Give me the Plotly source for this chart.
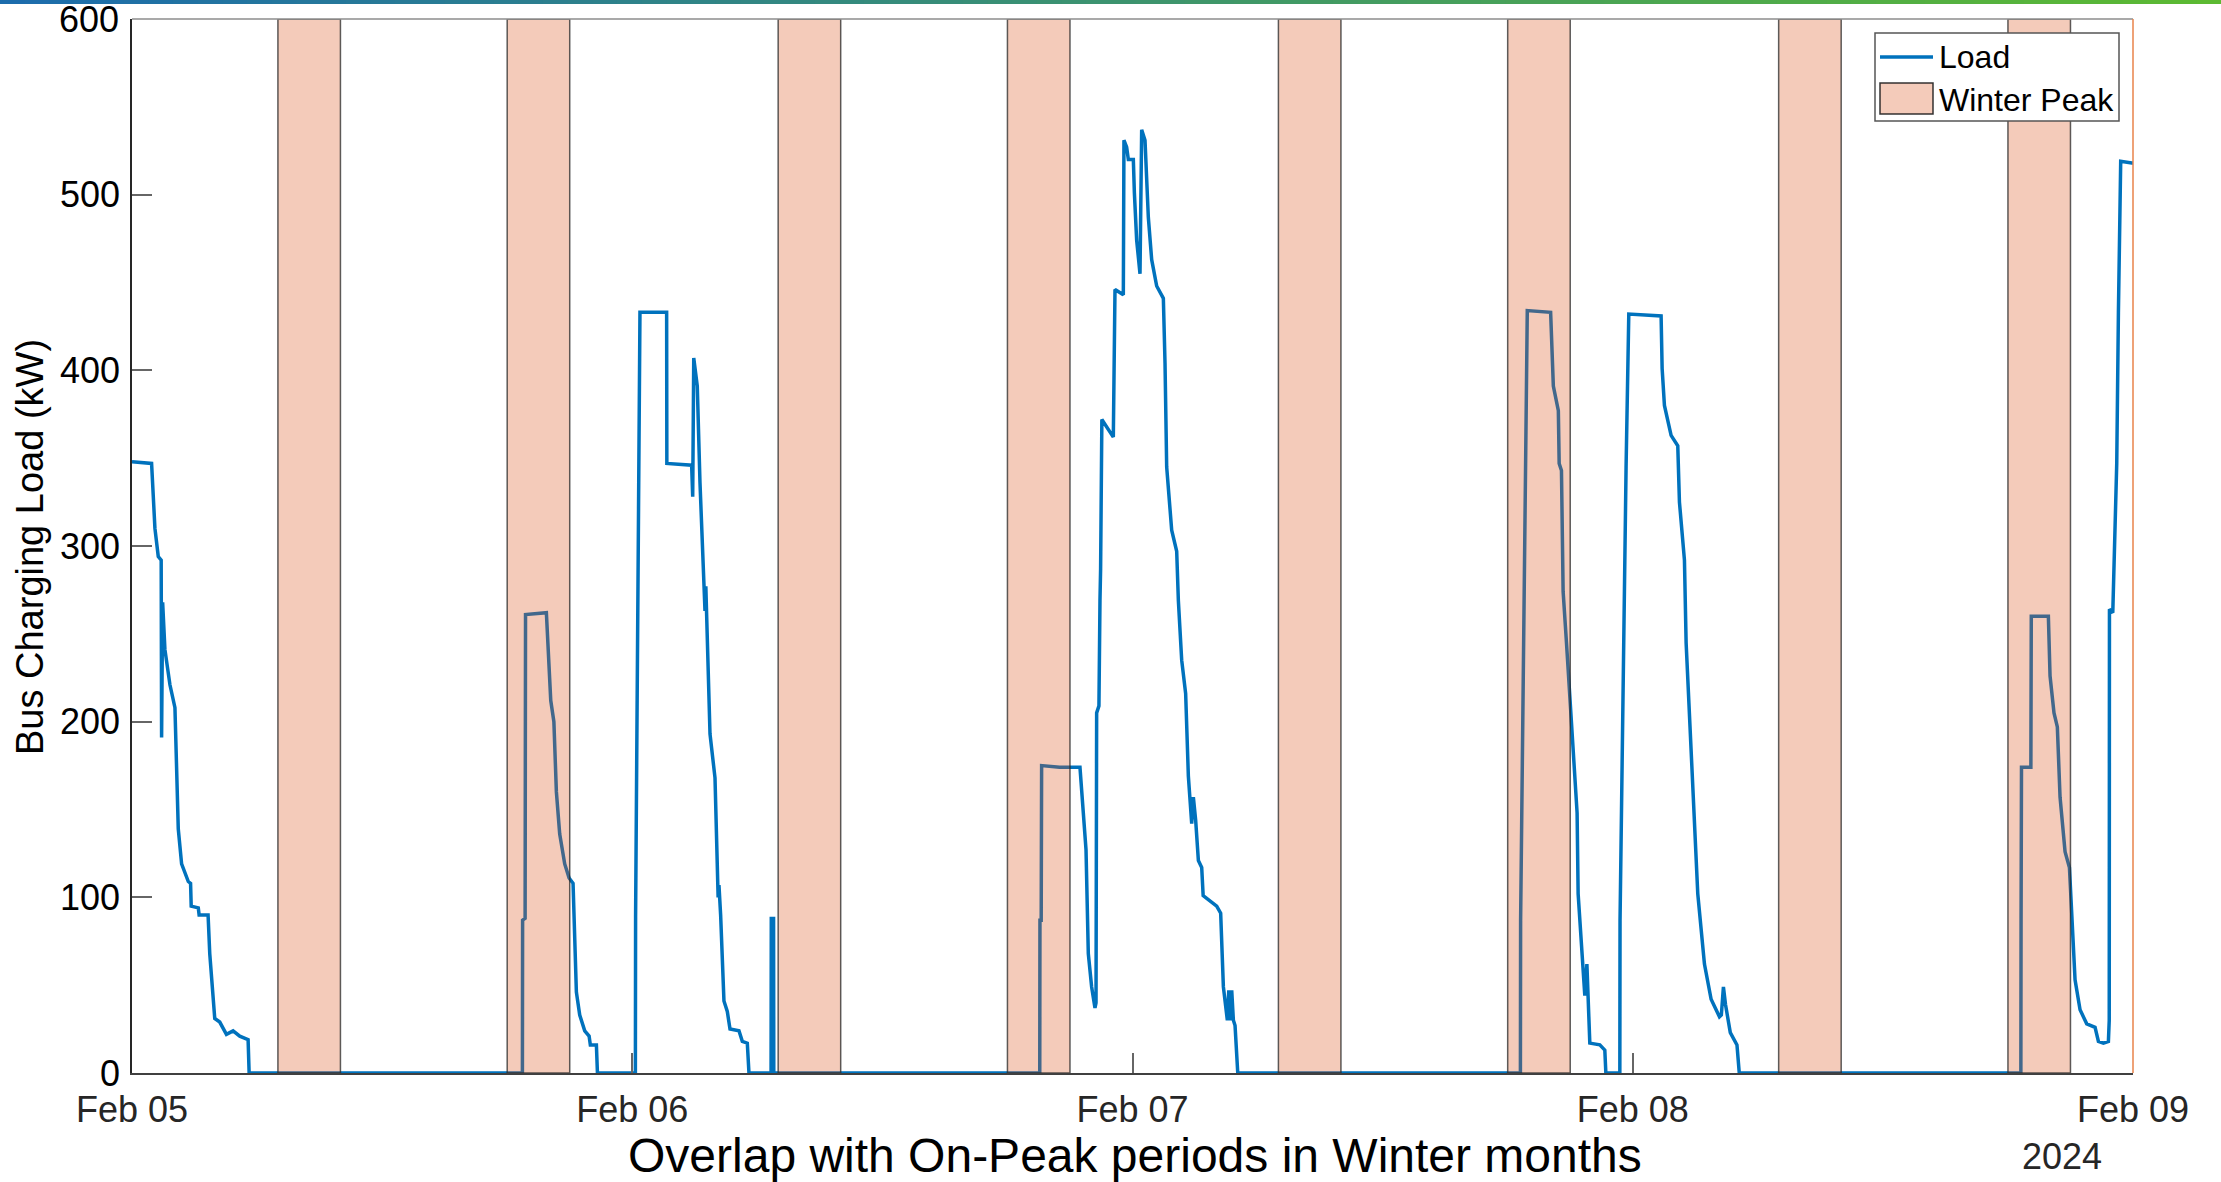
import pandas as pd
import plotly.graph_objects as go

# ---------------- data ----------------
base_date = "2024-02-05"
# hours since Feb 05 00:00 and bus charging load (kW)
load_hours = [
    0, 0.94, 1.10, 1.26, 1.40, 1.42, 1.47, 1.58, 1.82, 2.06, 2.22, 2.38, 2.70, 2.81, 2.84, 3.18, 3.22,
    3.65, 3.73, 3.97, 4.21, 4.53, 4.85, 5.17, 5.57, 5.62,
    18.73, 18.74, 18.86, 18.88, 19.88, 19.99, 20.09, 20.24, 20.36, 20.52, 20.76, 20.97, 21.16, 21.32,
    21.48, 21.72, 21.93, 21.99, 22.28, 22.33,
    24.15, 24.16, 24.22, 24.29, 24.37, 25.65, 25.66, 26.85, 26.90, 26.95, 27.12, 27.25, 27.41, 27.49,
    27.53, 27.57, 27.73, 27.97, 28.08, 28.12, 28.16, 28.24, 28.40, 28.56, 28.69, 29.12, 29.28, 29.52, 29.60,
    30.66, 30.67, 30.70, 30.71, 30.74, 30.75, 30.78, 30.79,
    43.55, 43.56, 43.62, 43.64, 44.50, 45.48, 45.56, 45.77, 45.88, 46.04, 46.20, 46.25, 46.28, 46.39,
    46.44, 46.47, 46.53, 47.08, 47.16, 47.56, 47.59, 47.72, 47.80, 48.04, 48.09, 48.20, 48.36, 48.44,
    48.60, 48.76, 48.92, 49.16, 49.48, 49.56, 49.64, 49.88, 50.12, 50.20, 50.36, 50.55, 50.68, 50.84,
    50.92, 51.03, 51.16, 51.32, 51.39, 51.72, 52.04, 52.23, 52.36, 52.55, 52.62, 52.70, 52.76, 52.84,
    52.92, 53.05,
    66.61, 66.62, 66.70, 66.78, 66.86, 66.94, 68.06, 68.19, 68.43, 68.45, 68.47, 68.58, 68.66, 68.82,
    69.01, 69.14, 69.33, 69.38, 69.54, 69.70, 69.80, 69.86, 69.94, 70.42, 70.66, 70.71,
    71.38, 71.39, 71.48, 71.57, 71.68, 71.81, 73.36, 73.41, 73.52, 73.84, 74.16, 74.24, 74.48, 74.56,
    74.72, 74.91, 75.12, 75.44, 75.76, 76.16, 76.25, 76.35, 76.45, 76.68, 77.00, 77.11,
    90.62, 90.63, 90.65, 91.10, 91.12, 91.94, 92.02, 92.21, 92.37, 92.50, 92.74, 92.95, 93.06, 93.22,
    93.46, 93.78, 94.18, 94.34, 94.58, 94.82, 94.86, 94.87, 95.03, 95.22, 95.30, 95.41, 95.94, 96.0,
]
load_kw = [
    348, 347, 310, 294, 292, 191, 268, 241, 221, 208, 139, 119, 109, 108, 95, 94, 90,
    90, 68, 31, 29, 22, 24, 21, 19, 0,
    0, 87, 88, 261, 262, 235, 212, 200, 160, 136, 119, 111, 108, 46,
    33, 24, 21, 16, 16, 0,
    0, 89, 176, 263, 433, 433, 347, 346, 328, 407, 391, 336, 277, 263,
    277, 263, 193, 168, 107, 100, 107, 90, 41, 35, 25, 24, 18, 17, 0,
    0, 88, 88, 0, 0, 88, 88, 0,
    0, 87, 87, 175, 174, 174, 159, 127, 68, 49, 37, 40, 205, 209,
    269, 287, 372, 362, 446, 443, 531, 527, 520, 520, 501, 474, 455, 537,
    531, 487, 463, 448, 441, 404, 345, 309, 297, 269, 235, 216, 169, 142,
    157, 144, 121, 117, 101, 98, 95, 91, 49, 30, 47, 30, 47, 30,
    27, 0,
    0, 87, 175, 261, 347, 434, 433, 391, 377, 357, 347, 343, 274, 245,
    211, 182, 148, 102, 73, 44, 62, 43, 17, 16, 13, 0,
    0, 87, 174, 259, 345, 432, 431, 401, 380, 363, 357, 325, 292, 245,
    202, 155, 102, 62, 42, 32, 33, 49, 39, 23, 16, 0,
    0, 88, 174, 174, 260, 260, 226, 205, 197, 157, 126, 117, 88, 53,
    36, 28, 26, 18, 17, 18, 30, 264, 262, 347, 433, 519, 518, 518,
]
# Winter on-peak windows (hours since Feb 05 00:00)
peak_start_hours = [7, 18, 31, 42, 55, 66, 79, 90]
peak_end_hours = [10, 21, 34, 45, 58, 69, 82, 93]
y_max = 600
y_ticks = [0, 100, 200, 300, 400, 500, 600]
y_tick_labels = ["0", "100", "200", "300", "400", "500", "600"]
day_ticks = ["2024-02-05", "2024-02-06", "2024-02-07", "2024-02-08", "2024-02-09"]
day_labels = ["Feb 05", "Feb 06", "Feb 07", "Feb 08", "Feb 09"]
legend_labels = ["Load", "Winter Peak"]

# ---------------- build ----------------
t0 = pd.Timestamp(base_date)
load_t = [t0 + pd.Timedelta(hours=h) for h in load_hours]

px, py = [], []
for s, e in zip(peak_start_hours, peak_end_hours):
    ts, te = t0 + pd.Timedelta(hours=s), t0 + pd.Timedelta(hours=e)
    px += [ts, ts, te, te, ts, None]
    py += [0, y_max, y_max, 0, 0, None]

FONT = "Liberation Sans, Arial, Helvetica, sans-serif"
W, H = 2221, 1182
ML, MR, MT, MB = 132, 88, 19, 109
pw = W - ML - MR
ph = H - MT - MB

LINE_COL = "#0072BD"
PEAK_FILL = "rgba(217,83,25,0.3)"
PEAK_EDGE = "rgba(40,40,40,0.75)"


def fx(pxl):  # figure pixel x -> paper
    return (pxl - ML) / pw


def fy(pyl):  # figure pixel y (from top) -> paper
    return 1 - (pyl - MT) / ph


fig = go.Figure()
fig.add_trace(go.Scatter(x=load_t, y=load_kw, mode="lines", name=legend_labels[0],
                         line=dict(color=LINE_COL, width=3.5), hoverinfo="skip", showlegend=False))
fig.add_trace(go.Scatter(x=px, y=py, mode="lines", name=legend_labels[1], fill="toself",
                         fillcolor=PEAK_FILL, line=dict(color=PEAK_EDGE, width=1.5),
                         hoverinfo="skip", showlegend=False))

shapes = []
# top gradient strip
n = 90
c0, c1 = (28, 108, 172), (92, 186, 50)
for i in range(n):
    f = i / (n - 1)
    col = tuple(int(round(c0[k] + (c1[k] - c0[k]) * f)) for k in range(3))
    shapes.append(dict(type="rect", xref="paper", yref="paper",
                       x0=fx(W * i / n), x1=fx(W * (i + 1) / n) + 0.0005,
                       y0=fy(4), y1=fy(0),
                       fillcolor="rgb(%d,%d,%d)" % col, line=dict(width=0), layer="above"))
# top border and right border
shapes.append(dict(type="line", xref="paper", yref="paper", x0=0, x1=1, y0=1, y1=1,
                   line=dict(color="#8c8c8c", width=1.5), layer="above"))
shapes.append(dict(type="line", xref="paper", yref="paper", x0=1, x1=1, y0=0, y1=1,
                   line=dict(color="#e8834a", width=1.5), layer="above"))
# custom legend box
shapes.append(dict(type="rect", xref="paper", yref="paper", x0=fx(1875), x1=fx(2119),
                   y0=fy(121), y1=fy(33), fillcolor="white",
                   line=dict(color="#555555", width=1.5), layer="above"))
shapes.append(dict(type="line", xref="paper", yref="paper", x0=fx(1880), x1=fx(1933),
                   y0=fy(57), y1=fy(57), line=dict(color=LINE_COL, width=3.5), layer="above"))
shapes.append(dict(type="rect", xref="paper", yref="paper", x0=fx(1880), x1=fx(1933),
                   y0=fy(114), y1=fy(83), fillcolor=PEAK_FILL,
                   line=dict(color="rgba(30,30,30,0.9)", width=1.5), layer="above"))

annotations = [
    dict(text="Bus Charging Load (kW)", xref="paper", yref="paper",
         x=fx(30), y=fy(547), textangle=-90, showarrow=False,
         xanchor="center", yanchor="middle", font=dict(size=38, color="black")),
    dict(text="Overlap with On-Peak periods in Winter months", xref="paper", yref="paper",
         x=fx(1135), y=fy(1155), showarrow=False,
         xanchor="center", yanchor="middle", font=dict(size=48, color="black")),
    dict(text="2024", xref="paper", yref="paper",
         x=fx(2062), y=fy(1156), showarrow=False,
         xanchor="center", yanchor="middle", font=dict(size=36, color="#262626")),
    dict(text=legend_labels[0], xref="paper", yref="paper",
         x=fx(1937), y=fy(57), showarrow=False,
         xanchor="left", yanchor="middle", font=dict(size=32, color="black")),
    dict(text=legend_labels[1], xref="paper", yref="paper",
         x=fx(1937), y=fy(100), showarrow=False,
         xanchor="left", yanchor="middle", font=dict(size=32, color="black")),
    # top y tick label (plotly drops the label at the very edge of the range)
    dict(text=y_tick_labels[-1], xref="paper", yref="y",
         x=fx(121), y=y_ticks[-1], showarrow=False,
         xanchor="right", yanchor="middle", font=dict(size=36, color="black")),
]

fig.update_layout(
    width=W, height=H,
    margin=dict(l=ML, r=MR, t=MT, b=MB),
    paper_bgcolor="white", plot_bgcolor="white",
    font=dict(family=FONT, color="#262626", size=36),
    shapes=shapes,
    showlegend=False,
    annotations=annotations,
)
fig.update_xaxes(
    type="date", range=[day_ticks[0], day_ticks[-1]],
    tickmode="array", tickvals=day_ticks, ticktext=day_labels,
    ticks="inside", ticklen=20, tickwidth=1.5, tickcolor="#666666",
    showline=True, linecolor="#404040", linewidth=1.5,
    showgrid=False, zeroline=False, ticklabelstandoff=4,
    tickfont=dict(size=36, color="#262626"),
)
fig.update_yaxes(
    range=[0, y_max + 0.001], tickmode="array", tickvals=y_ticks,
    ticktext=y_tick_labels[:-1] + [""],
    ticks="inside", ticklen=20, tickwidth=1.5, tickcolor="#666666",
    showline=True, linecolor="#262626", linewidth=1.5,
    showgrid=False, zeroline=False, ticklabelstandoff=3,
    tickfont=dict(size=36, color="black"),
)

fig.write_html("out.html", config={"displayModeBar": False},
               post_script="document.body.style.margin='0px';document.body.style.overflow='hidden';")
